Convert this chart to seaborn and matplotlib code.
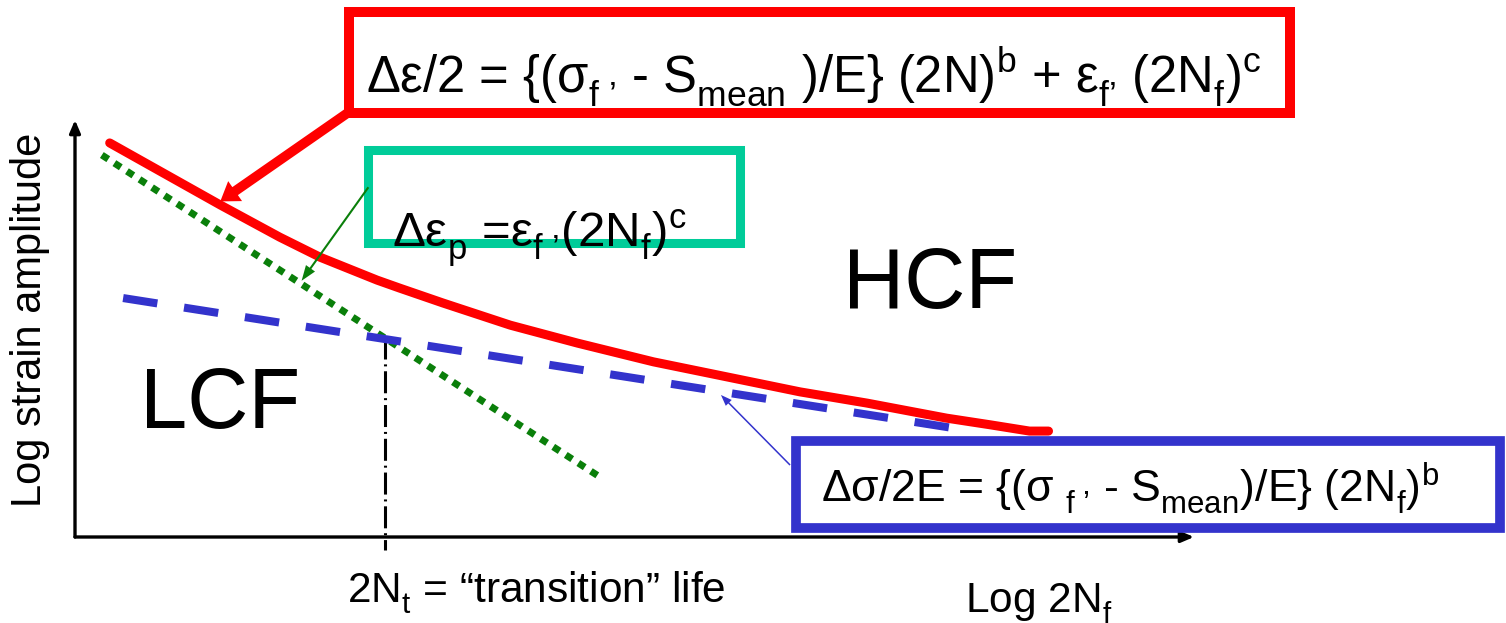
import numpy as np
import pandas as pd
import matplotlib
matplotlib.use('Agg')
import matplotlib.pyplot as plt
import seaborn as sns
from matplotlib.patches import Rectangle, FancyArrowPatch

# ---- schematic data (axis units 0..10 on both axes) ----
red_x = [0.31, 1.30, 1.83, 2.19, 2.70, 2.90, 3.29, 3.89, 4.49, 5.17, 5.88, 6.48, 7.08, 7.79, 8.18, 8.53, 8.70]
red_y = [9.45, 7.96, 7.19, 6.71, 6.16, 5.97, 5.61, 5.08, 4.65, 4.20, 3.81, 3.48, 3.21, 2.85, 2.69, 2.54, 2.54]
green_x = [0.24, 4.69]
green_y = [9.16, 1.44]
blue_x = [0.43, 7.95]
blue_y = [5.73, 2.57]
trans_x = [2.77, 2.77]
trans_y = [4.80, -0.31]

# ---- text ----
eq_total = "Δε/2 = {(σ$_{f\\ ’}$ - S$_{mean}$ )/E} (2N)$^{b}$ + ε$_{f’}$ (2N$_{f}$)$^{c}$"
eq_plastic = "Δε$_{p}$ =ε$_{f\\ ’}$(2N$_{f}$)$^{c}$"
eq_elastic = "Δσ/2E = {(σ $_{f\\ ’}$ - S$_{mean}$)/E} (2N$_{f}$)$^{b}$"
ylabel = "Log strain amplitude"
xlabel = "Log 2N$_{f}$"
trans_label = "2N$_{t}$ = “transition” life"

W, H = 1506, 623
sns.set_theme(style='white')
plt.rcParams['font.family'] = ['Liberation Sans', 'DejaVu Sans']
plt.rcParams['text.color'] = 'black'
plt.rcParams['mathtext.fontset'] = 'custom'
plt.rcParams['mathtext.rm'] = 'Liberation Sans'
plt.rcParams['mathtext.it'] = 'Liberation Sans'
plt.rcParams['mathtext.bf'] = 'Liberation Sans:bold'
try:
    import matplotlib._mathtext as _mt
    _mt.FontConstantsBase.sub1 = 0.5
    _mt.FontConstantsBase.sub2 = 0.6
except Exception:
    pass

fig = plt.figure(figsize=(W / 100, H / 100), dpi=100)
fig.patch.set_facecolor('white')


def fx(x):
    return x / W


def fy(y):
    return 1 - y / H


ax = fig.add_axes([fx(75), fy(537), (1194 - 75) / W, (537 - 120) / H])
ax.set_xlim(0, 10)
ax.set_ylim(0, 10)
ax.axis('off')

# axis arrows
arrow_kw = dict(arrowstyle='-|>,head_length=0.75,head_width=0.32', lw=2.4, color='black',
                shrinkA=0, shrinkB=0, mutation_scale=10)
ax.annotate('', xy=(1, 0), xytext=(0, 0), xycoords='axes fraction', arrowprops=arrow_kw)
ax.annotate('', xy=(0, 1), xytext=(0, 0), xycoords='axes fraction', arrowprops=arrow_kw)

# curves
sns.lineplot(x=trans_x, y=trans_y, ax=ax, color='black', lw=2.2, estimator=None, sort=False,
             linestyle=(0, (7.2, 1.6, 0.65, 1.6)), clip_on=False)
sns.lineplot(x=green_x, y=green_y, ax=ax, color='#0A7F0A', lw=5.0, estimator=None, sort=False,
             linestyle=(0, (1.1, 1.05)))
sns.lineplot(x=blue_x, y=blue_y, ax=ax, color='#3333CC', lw=5.8, estimator=None, sort=False,
             linestyle=(0, (4.3, 3.35)))
sns.lineplot(x=red_x, y=red_y, ax=ax, color='#FF0000', lw=6.5, estimator=None, sort=False)

# boxes
red_box = Rectangle((fx(349), fy(112.5)), fx(1290) - fx(349), fy(12.5) - fy(112.5),
                    transform=fig.transFigure, fc='white', ec='#FF0000', lw=7.2, zorder=2)
teal_box = Rectangle((fx(368), fy(243)), fx(740) - fx(368), fy(150) - fy(243),
                     transform=fig.transFigure, fc='none', ec='#00CC99', lw=6.5, zorder=2)
blue_box = Rectangle((fx(796), fy(528)), fx(1500) - fx(796), fy(441) - fy(528),
                     transform=fig.transFigure, fc='white', ec='#3333CC', lw=7.0, zorder=2)
for b in (red_box, teal_box, blue_box):
    fig.add_artist(b)

# callout arrows
fig.add_artist(FancyArrowPatch(posA=(fx(349), fy(112)), posB=(fx(218), fy(203)),
                               transform=fig.transFigure, mutation_scale=1, color='#FF0000', lw=0,
                               arrowstyle='simple,head_length=13,head_width=17.5,tail_width=7',
                               zorder=3))
fig.add_artist(FancyArrowPatch(posA=(fx(370), fy(185)), posB=(fx(300), fy(283)),
                               transform=fig.transFigure, mutation_scale=1, color='#0A7F0A', lw=0,
                               arrowstyle='simple,head_length=11,head_width=8,tail_width=1.5',
                               zorder=3))
fig.add_artist(FancyArrowPatch(posA=(fx(792), fy(467)), posB=(fx(719), fy(393)),
                               transform=fig.transFigure, mutation_scale=1, color='#3333CC', lw=0,
                               arrowstyle='simple,head_length=8,head_width=6,tail_width=1.1',
                               zorder=3))

# texts
fig.text(fx(366), fy(92), eq_total, fontsize=36.5, ha='left', va='baseline', zorder=4)
fig.text(fx(392), fy(247), eq_plastic, fontsize=35.5, ha='left', va='baseline', zorder=4)
fig.text(fx(821), fy(502), eq_elastic, fontsize=32, ha='left', va='baseline', zorder=4)
fig.text(fx(843), fy(308), 'HCF', fontsize=61, ha='left', va='baseline', zorder=4)
fig.text(fx(140), fy(428), 'LCF', fontsize=61, ha='left', va='baseline', zorder=4)
fig.text(fx(30), fy(320), ylabel, fontsize=30, rotation=90, ha='center', va='center')
fig.text(fx(965), fy(612), xlabel, fontsize=30.5, ha='left', va='baseline')
fig.text(fx(347), fy(602), trans_label, fontsize=30.5, ha='left', va='baseline')

fig.savefig('out.png', dpi=100, facecolor='white')
